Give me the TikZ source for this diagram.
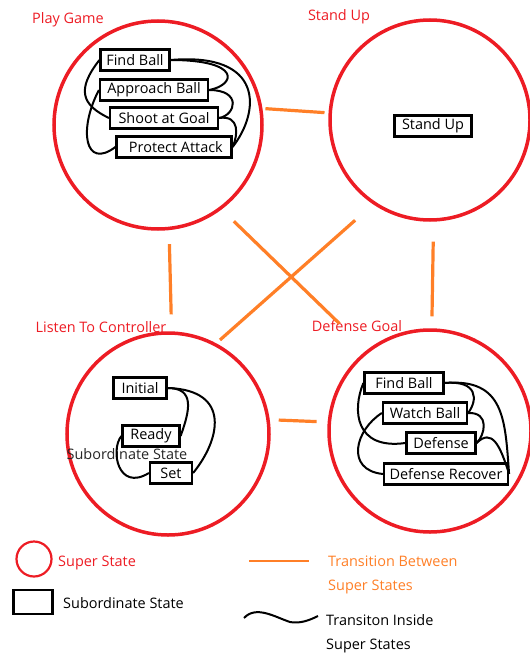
\documentclass[tikz,border=0pt]{standalone}
\usepackage{fontspec}
\setmainfont{Open Sans}
\definecolor{superred}{RGB}{237,28,36}
\definecolor{transorange}{RGB}{255,127,39}

\begin{document}
\begin{tikzpicture}[x=1bp, y=-1bp,
	 superstate/.style={draw=superred, line width=3.5bp, circle, inner sep=0pt},
	 superlabel/.style={text=superred, font=\fontsize{14.5}{16}\selectfont, inner sep=0pt},
	 substate/.style={draw, line width=2.2bp, inner sep=1.5bp, minimum height=21bp, font=\fontsize{14.5}{16}\selectfont},
	 legendtext/.style={anchor=west, inner sep=0pt, font=\fontsize{14.5}{16}\selectfont},
	 transition/.style={draw=transorange, line width=3.2bp},
	 inside/.style={draw, line width=2bp}]
	    \useasboundingbox (0,0) rectangle (530,655);
	    \node (pg) at (158,125) [superstate, minimum size=208bp] {};
	    \node (su) at (430,120) [superstate, minimum size=200bp] {};
	    \node (lc) at (168,434) [superstate, minimum size=202bp] {};
	    \node (dg) at (430,431) [superstate, minimum size=202bp] {};
	    \node (pglabel) at (68,20) [superlabel] {Play Game};
	    \node (sulabel) at (339,17) [superlabel] {Stand Up};
	    \node (lclabel) at (101,327) [superlabel] {Listen To Controller};
	    \node (dglabel) at (357,326) [superlabel] {Defense Goal};
	    \draw[transition, shorten <=3bp, shorten >=4bp] (pg.9) -- (su.176);
	    \draw[transition, shorten <=14bp, shorten >=17bp] (pg.-84) -- (lc.88);
	    \draw[transition, shorten <=20bp, shorten >=12bp] (su.-88) -- (dg.89);
	    \draw[transition, shorten <=17bp, shorten >=38bp] (pg.-53) -- (dg.128);
	    \draw[transition, shorten <=24bp, shorten >=5bp] (su.-124) -- (lc.62);
	    \draw[transition, shorten <=9bp, shorten >=11bp] (lc.8) -- (dg.175);
	    \node (pgfind) at (135,60) [substate, minimum width=69bp] {Find Ball};
	    \node (pgapproach) at (154,90) [substate, minimum width=108bp] {Approach Ball};
	    \node (pgshoot) at (164,118) [substate, minimum width=108bp] {Shoot at Goal};
	    \node (pgprotect) at (174,147) [substate, minimum width=115bp] {\ Protect Attack};
	    \draw[inside] (pgfind.east) .. controls (242,60) and (236,85) .. (pgapproach.east);
	    \draw[inside] (pgfind.east) .. controls (265,52) and (260,112) .. (pgprotect.east);
	    \draw[inside] (pgapproach.east) .. controls (242,90) and (236,115) .. (pgshoot.east);
	    \draw[inside] (pgshoot.east) .. controls (240,115) and (238,135) .. (pgprotect.east);
	    \draw[inside] (pgfind.west) .. controls (76,90) and (82,105) .. (pgshoot.west);
	    \draw[inside] (pgapproach.west) .. controls (78,130) and (85,170) .. (pgprotect.west);
	    \node (suup) at (433,126) [substate, minimum width=77bp] {Stand Up};
	    \node (lcnote) at (127,454) [inner sep=0pt, text=black!85, font=\fontsize{14.5}{16}\selectfont] {Subordinate State};
	    \node (lcinit) at (140,388) [substate, minimum width=53bp] {Initial};
	    \node (lcready) at (151,436) [substate, minimum width=57bp] {Ready};
	    \node (lcset) at (171,473) [substate, minimum width=42bp] {Set};
	    \draw[inside] (lcinit.east) .. controls (195,388) and (190,410) .. (lcready.east);
	    \draw[inside] (lcinit.east) .. controls (232,390) and (220,440) .. (lcset.east);
	    \draw[inside] (lcready.west) .. controls (110,450) and (118,492) .. (lcset.west);
	    \node (dgfind) at (404,383) [substate, minimum width=79bp] {Find Ball};
	    \node (dgwatch) at (425,413) [substate, minimum width=84bp] {Watch Ball};
	    \node (dgdef) at (441,443) [substate, minimum width=69bp] {Defense};
	    \node (dgrecover) at (446,474) [substate, minimum width=124bp] {Defense Recover};
	    \draw[inside] (dgfind.east) .. controls (478,380) and (478,400) .. (dgwatch.east);
	    \draw[inside] (dgfind.east) .. controls (505,378) and (505,420) .. (dgrecover.east);
	    \draw[inside] (dgwatch.east) .. controls (490,412) and (485,435) .. (dgdef.east);
	    \draw[inside] (dgdef.east) .. controls (492,428) and (500,445) .. (dgrecover.east);
	    \draw[inside] (dgfind.west) .. controls (352,410) and (355,450) .. (dgdef.west);
	    \draw[inside] (dgwatch.west) .. controls (355,430) and (345,470) .. (dgrecover.west);
	    \node (keysuper) at (34,559) [superstate, line width=2.2bp, minimum size=35bp] {};
	    \node (keysupertext) at (58,563) [legendtext, text=superred] {Super State};
	    \node (keysub) at (33,602) [draw, line width=2.2bp, minimum width=39bp, minimum height=24bp] {};
	    \node (keysubtext) at (63,603) [legendtext] {Subordinate State};
	    \coordinate (keytransa) at (249,561);
	    \coordinate (keytransb) at (309,561);
	    \draw[transition, line width=2.2bp] (keytransa) -- (keytransb);
	    \node (keytranstext) at (328,561) [legendtext, text=transorange] {Transition Between};
	    \node (keytranstextb) at (328,587) [legendtext, text=transorange] {Super States};
	    \coordinate (keywavea) at (244,618);
	    \coordinate (keywaveb) at (318,616);
	    \draw[inside] (keywavea) .. controls (256,605) and (275,617) .. (290,622) .. controls (300,624) and (310,620) .. (keywaveb);
	    \node (keywavetext) at (326,620) [legendtext] {Transiton Inside};
	    \node (keywavetextb) at (326,646) [legendtext] {Super States};
	 \end{tikzpicture}
\end{document}
